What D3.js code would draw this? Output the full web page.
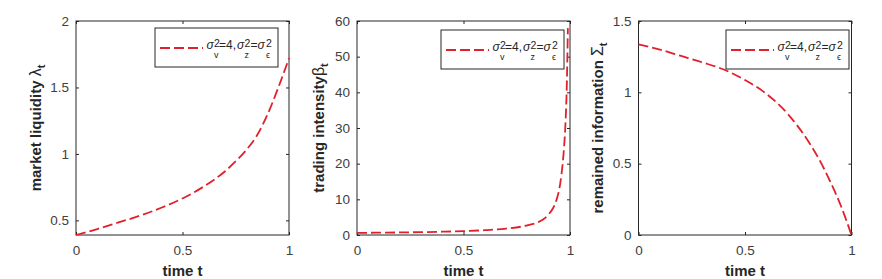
<!DOCTYPE html>
<html>
<head>
<meta charset="utf-8">
<script src="https://cdn.jsdelivr.net/npm/d3@7"></script>
<style>
  body { margin: 0; background: #fff; }
  svg { display: block; font-family: "Liberation Sans", Arial, sans-serif; }
</style>
</head>
<body>
<svg id="chart"></svg>
<script>
// values (time t on the x axis)
const tLambda = [0, 0.1, 0.2, 0.3, 0.4, 0.5, 0.6, 0.7, 0.75, 0.8, 0.85, 0.9, 0.95, 1];
const lambda = [0.39, 0.435, 0.485, 0.535, 0.595, 0.665, 0.755, 0.87, 0.945, 1.03, 1.14, 1.3, 1.5, 1.72];

const tBeta = [0, 0.1, 0.2, 0.3, 0.4, 0.5, 0.6, 0.7, 0.8, 0.85, 0.875, 0.9, 0.92, 0.94, 0.95, 0.96, 0.97, 0.98, 0.985, 0.99];
const beta = [0.6, 0.65, 0.72, 0.8, 0.92, 1.08, 1.35, 1.8, 2.7, 3.6, 4.4, 5.8, 7.5, 10.5, 13, 17, 23, 33, 42, 58];

const tSigma = [0, 0.1, 0.2, 0.3, 0.4, 0.5, 0.6, 0.7, 0.8, 0.85, 0.9, 0.95, 1];
const sigmaInfo = [1.336, 1.3, 1.255, 1.21, 1.16, 1.086, 0.99, 0.85, 0.65, 0.525, 0.375, 0.205, 0];

// tick values
const xTicks = [0, 0.5, 1];
const lambdaTicks = [0.5, 1, 1.5, 2];
const betaTicks = [0, 10, 20, 30, 40, 50, 60];
const sigmaTicks = [0, 0.5, 1, 1.5];

const width = 882, height = 279;
const plotTop = 21, plotBottom = 235, plotW = 213;
const red = "#e0202c", ink = "#262626", tickInk = "#404040";

const panels = [
  { left: 76, t: tLambda, v: lambda, domain: [0.39, 2], ticks: lambdaTicks,
    label: ["market liquidity ", "λ", "t"], labelX: 41, legendX: 155, legendY: 28 },
  { left: 357, t: tBeta, v: beta, domain: [0, 60], ticks: betaTicks,
    label: ["trading intensity", "β", "t"], labelX: 324, legendX: 441, legendY: 30 },
  { left: 638.5, t: tSigma, v: sigmaInfo, domain: [0, 1.5], ticks: sigmaTicks,
    label: ["remained information ", "Σ", "t"], labelX: 603, legendX: 726, legendY: 30 }
];

const svg = d3.select("#chart").attr("width", width).attr("height", height);

svg.append("rect").attr("width", width).attr("height", height).attr("fill", "#fff");

function styleAxis(g) {
  g.attr("font-family", null).attr("font-size", 13.5);
  g.select(".domain").remove();
  g.selectAll(".tick line").attr("stroke", ink);
  g.selectAll(".tick text").attr("fill", tickInk);
}

function addLegend(g, bx, by) {
  const bw = 123, bh = 39;
  g.append("rect")
    .attr("x", bx).attr("y", by).attr("width", bw).attr("height", bh)
    .attr("fill", "#fff").attr("stroke", ink).attr("stroke-width", 1);

  const cy = by + 20;
  g.append("line")
    .attr("x1", bx + 5).attr("x2", bx + 48)
    .attr("y1", cy).attr("y2", cy)
    .attr("stroke", red).attr("stroke-width", 1.8)
    .attr("stroke-dasharray", "10,4");

  // σ²_v=4,σ²_z=σ²_ε, super/subscripts stacked; offsets from the box's left edge
  const pieces = [
    { dx: 51.5, s: "σ", it: true }, { dx: 59, sup: "2", sub: "v" },
    { dx: 64, s: "=4," },
    { dx: 82, s: "σ", it: true }, { dx: 89.5, sup: "2", sub: "z" },
    { dx: 95.5, s: "=" },
    { dx: 102.5, s: "σ", it: true }, { dx: 111, sup: "2", sub: "ϵ" }
  ];
  const base = by + 21;
  pieces.forEach(p => {
    if (p.s) {
      g.append("text")
        .attr("x", bx + p.dx).attr("y", base)
        .attr("font-size", 12).attr("fill", ink)
        .attr("font-style", p.it ? "italic" : null)
        .text(p.s);
    } else {
      g.append("text")
        .attr("x", bx + p.dx).attr("y", base - 2.5)
        .attr("font-size", 10.5).attr("fill", ink)
        .text(p.sup);
      g.append("text")
        .attr("x", bx + p.dx).attr("y", base + 9)
        .attr("font-size", 9).attr("fill", ink)
        .text(p.sub);
    }
  });
}

panels.forEach(p => {
  const x = d3.scaleLinear().domain([0, 1]).range([p.left, p.left + plotW]);
  const y = d3.scaleLinear().domain(p.domain).range([plotBottom, plotTop]);

  // Add X axis (ticks inside, on bottom and top)
  svg.append("g")
    .attr("transform", "translate(0," + plotBottom + ")")
    .call(d3.axisBottom(x).tickValues(xTicks).tickSize(-3).tickPadding(10).tickFormat(d3.format("")))
    .call(styleAxis);
  svg.append("g")
    .attr("transform", "translate(0," + plotTop + ")")
    .call(d3.axisTop(x).tickValues(xTicks).tickSize(-3).tickFormat(() => ""))
    .call(styleAxis);

  // Add Y axis (left with labels, right ticks only)
  svg.append("g")
    .attr("transform", "translate(" + p.left + ",0)")
    .call(d3.axisLeft(y).tickValues(p.ticks).tickSize(-3).tickPadding(7).tickFormat(d3.format("")))
    .call(styleAxis);
  svg.append("g")
    .attr("transform", "translate(" + (p.left + plotW) + ",0)")
    .call(d3.axisRight(y).tickValues(p.ticks).tickSize(-3).tickFormat(() => ""))
    .call(styleAxis);

  // box
  svg.append("rect")
    .attr("x", p.left).attr("y", plotTop)
    .attr("width", plotW).attr("height", plotBottom - plotTop)
    .attr("fill", "none").attr("stroke", ink).attr("stroke-width", 1);

  // dashed curve
  const line = d3.line()
    .x((d, i) => x(p.t[i]))
    .y(d => y(d))
    .curve(d3.curveMonotoneX);
  svg.append("path")
    .datum(p.v)
    .attr("d", line)
    .attr("fill", "none")
    .attr("stroke", red)
    .attr("stroke-width", 1.8)
    .attr("stroke-dasharray", "10,4");

  addLegend(svg.append("g"), p.legendX, p.legendY);

  // x label
  svg.append("text")
    .attr("x", p.left + plotW / 2).attr("y", 276)
    .attr("text-anchor", "middle")
    .attr("font-size", 15).attr("font-weight", "bold").attr("fill", ink)
    .text("time t");

  // y label
  const yl = svg.append("text")
    .attr("transform", "translate(" + p.labelX + "," + (plotTop + plotBottom) / 2 + ") rotate(-90)")
    .attr("text-anchor", "middle")
    .attr("font-size", 15).attr("font-weight", "bold").attr("fill", ink);
  yl.append("tspan").text(p.label[0]);
  yl.append("tspan").attr("font-weight", "normal").attr("font-size", 16).text(p.label[1]);
  yl.append("tspan").attr("font-size", 11).attr("dy", 4).text(p.label[2]);
});
</script>
</body>
</html>
